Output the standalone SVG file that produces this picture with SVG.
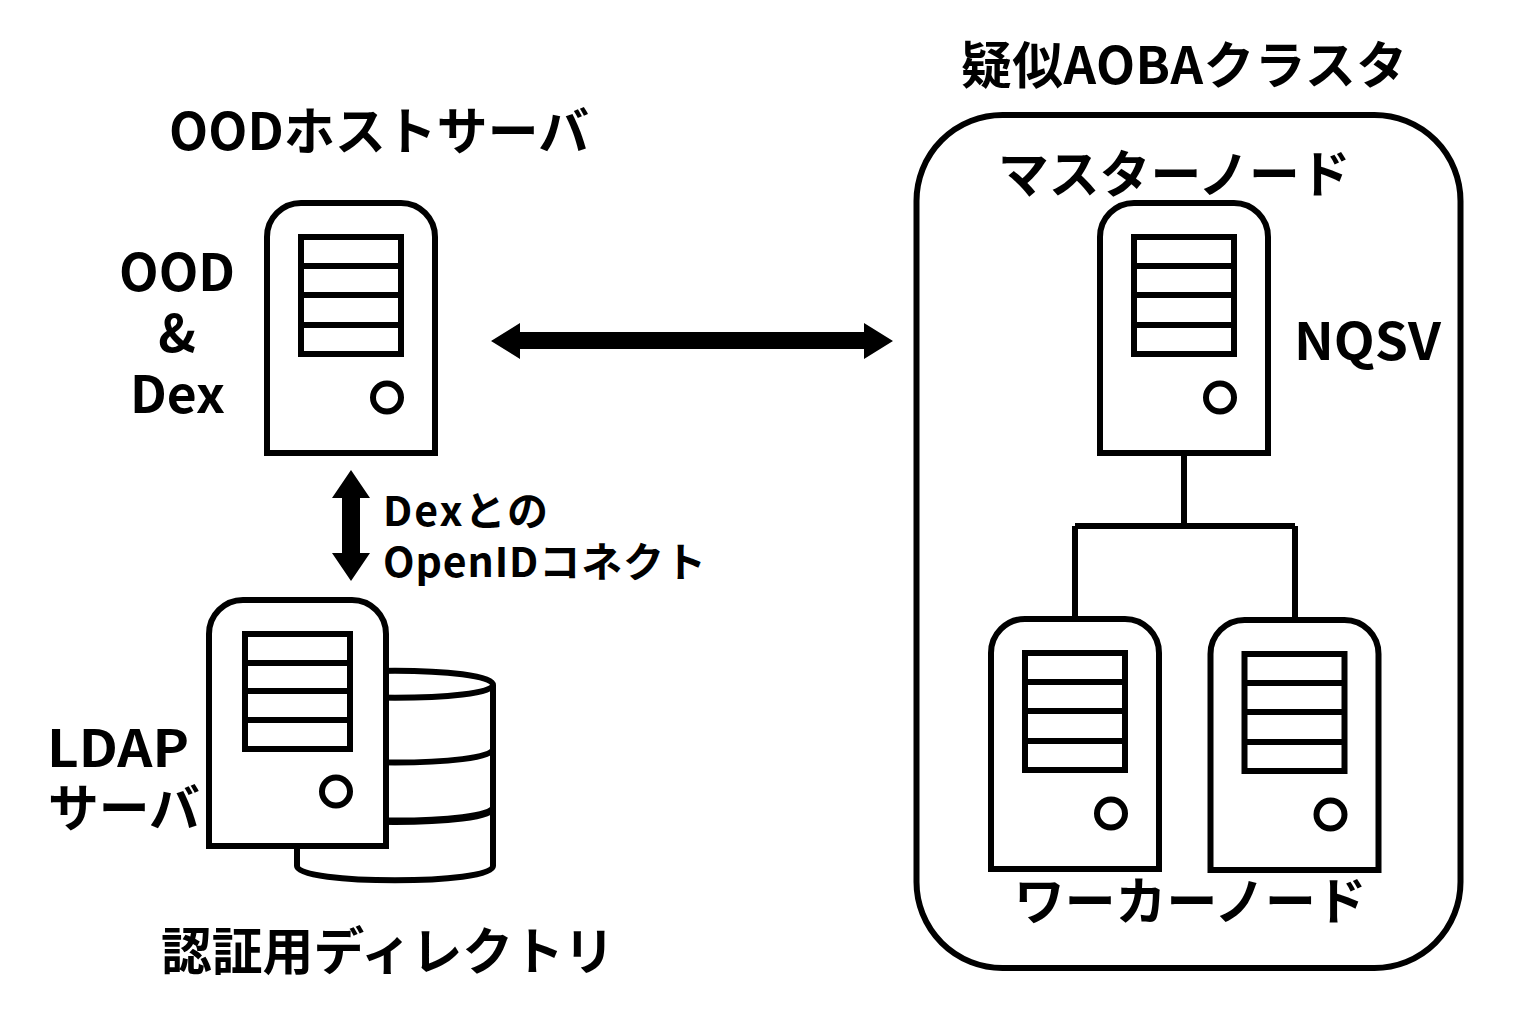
<svg xmlns="http://www.w3.org/2000/svg" width="1533" height="1021" viewBox="0 0 1533 1021">
<style>
text{font-family:"Noto Sans CJK JP","Noto Sans",sans-serif;font-weight:700;fill:#000}
.s{fill:#fff;stroke:#000;stroke-width:6}
.n{fill:none;stroke:#000;stroke-width:6}
.t50{font-size:50.8px}.t40{font-size:41px}
</style>
<rect width="1533" height="1021" fill="#fff"/>
<defs>
<g id="srv">
<path class="s" d="M267 453V237a34 34 0 0 1 34-34H401a34 34 0 0 1 34 34V453Z"/>
<rect class="s" x="301" y="237" width="100" height="117"/>
<path class="n" d="M301 266H401M301 295H401M301 325H401"/>
<circle class="s" cx="387" cy="397.500" r="14"/>
</g>
</defs>
<g id="cluster"><rect class="s" x="916.500" y="115" width="544" height="853" rx="86"/></g>
<g id="connectors">
<path class="n" d="M1184 456V526M1075 526H1295M1075 526V618M1295 526V619"/>
<path id="arrow-h" d="M491 341L520 323V332H864V323L893 341L864 359V349H520V359Z"/>
<path id="arrow-v" d="M351 470L370 498H360V553H370L351 581L332 553H342V498H332Z"/>
</g>
<g id="ood"><use href="#srv"/></g>
<g id="master"><use href="#srv" x="833"/></g>
<g id="worker1"><use href="#srv" x="724" y="416"/></g>
<g id="worker2"><use href="#srv" x="943.500" y="417"/></g>
<g id="directory">
<path class="s" d="M297 685C297 666 493 666 493 685V866C493 885 297 885 297 866Z"/>
<path class="n" d="M297 685C297 702 493 702 493 685M297 749C297 767 493 767 493 749M297 807C297 825 493 825 493 807M297 808.500C297 826.500 493 826.500 493 808.500"/>
</g>
<g id="ldap">
<path class="s" d="M209 846V634a34 34 0 0 1 34-34H352a34 34 0 0 1 34 34V846Z"/>
<rect class="s" x="245" y="634" width="105" height="115"/>
<path class="n" d="M245 663H350M245 691H350M245 720H350"/>
<circle class="s" cx="336" cy="791.500" r="14"/>
</g>
<g id="labels">
<text class="t50" x="961" y="84" textLength="446">疑似AOBAクラスタ</text>
<text class="t50" x="169" y="150" textLength="420">OODホストサーバ</text>
<text class="t50" x="119" y="291" textLength="116" lengthAdjust="spacingAndGlyphs">OOD</text>
<text class="t50" x="177" y="352" text-anchor="middle">&amp;</text>
<text class="t50" x="130" y="413" textLength="95" lengthAdjust="spacingAndGlyphs">Dex</text>
<text class="t50" x="998" y="193">マスターノード</text>
<text class="t50" x="1294" y="360" textLength="147" lengthAdjust="spacingAndGlyphs">NQSV</text>
<text class="t40" x="383" y="526" textLength="165">Dexとの</text>
<text class="t40" x="383" y="577" textLength="323">OpenIDコネクト</text>
<text class="t50" x="47" y="767" textLength="142" lengthAdjust="spacingAndGlyphs">LDAP</text>
<text class="t50" x="48" y="827">サーバ</text>
<text class="t50" x="1014" y="920">ワーカーノード</text>
<text class="t50" x="161" y="970">認証用ディレクトリ</text>
</g>
</svg>
